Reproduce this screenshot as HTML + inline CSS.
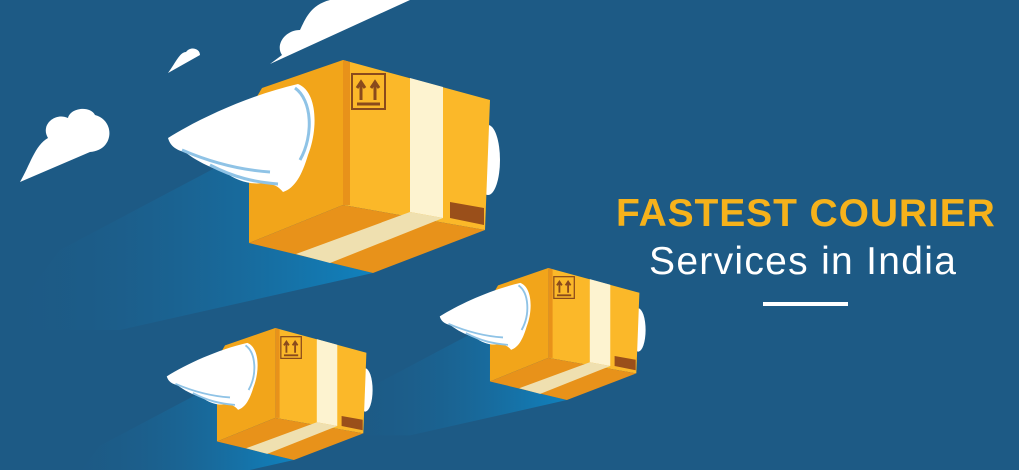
<!DOCTYPE html>
<html><head><meta charset="utf-8"><style>
html,body{margin:0;padding:0;}
body{width:1019px;height:470px;overflow:hidden;background:#1d5a85;position:relative;font-family:"Liberation Sans",sans-serif;}
svg{position:absolute;left:0;top:0;}
.t{position:absolute;white-space:nowrap;}
</style></head><body>
<svg width="1019" height="470" viewBox="0 0 1019 470">
<defs>
<linearGradient id="st" x1="1" y1="0" x2="0" y2="0">
<stop offset="0" stop-color="#0f86c4"/><stop offset="1" stop-color="#1d5a85" stop-opacity="0"/>
</linearGradient>
<g id="box">
<polygon points="249,150 249,243 373,273 120,330 0,330 60,250" fill="url(#st)" opacity="0.9"/>
<ellipse cx="488" cy="160" rx="12" ry="35" fill="#ffffff"/>
<polygon points="262,88 343,60 343,205 249,243 249,110" fill="#f2a51a"/>
<polygon points="343,60 490,100 485,230 343,205" fill="#fbb829"/>
<polygon points="343,60 350,62 350,205 343,205" fill="#e8921a"/>
<polygon points="249,243 343,205 485,230 373,273" fill="#e8921a"/>
<polygon points="410,78 443,87 443,218 410,212" fill="#fdf3d0"/>
<polygon points="410,212 443,218 330,263 296,254" fill="#efe0b0"/>
<rect x="352" y="74" width="33" height="35" fill="none" stroke="#8a4a1c" stroke-width="2"/>
<path d="M361,100 V84 M357,88 L361,82 L365,88 M375,100 V84 M371,88 L375,82 L379,88 M357,104 H380" stroke="#8a4a1c" stroke-width="3" fill="none"/>
<polygon points="450,202 484,208 484,225 450,218" fill="#9a4f1a"/>
<path d="M168,138 C200,118 250,95 298,84 C318,92 318,130 308,155 C302,175 295,188 283,192 C275,182 268,185 262,183 C250,185 235,180 225,172 C210,168 195,160 185,152 C175,150 170,145 168,138 Z" fill="#ffffff"/>
<path d="M182,150 C210,162 240,170 270,172 M210,165 C235,178 255,182 278,184" stroke="#8fc3e6" stroke-width="3" fill="none"/>
<path d="M295,88 C312,100 314,135 300,160" stroke="#8fc3e6" stroke-width="3" fill="none"/>
</g>
</defs>
<path d="M20,182 L90,152 C115,150 115,120 95,115 C90,105 70,108 68,118 C55,112 40,125 48,138 C35,145 30,165 20,182 Z" fill="#ffffff"/>
<path d="M270,64 L410,0 L330,0 C310,5 305,20 300,30 C285,30 275,45 282,55 Z" fill="#ffffff"/>
<path d="M168,73 L200,55 C200,48 190,46 186,52 C180,52 176,62 168,73 Z" fill="#ffffff"/>
<use href="#box"/>
<use href="#box" transform="translate(335.6,230.8) scale(0.62)"/>
<use href="#box" transform="translate(62.6,290.8) scale(0.62)"/>
<rect x="763" y="302" width="85" height="4" fill="#ffffff"/>
</svg>
<div class="t" style="left:616px;top:192px;font-size:39px;font-weight:bold;color:#f6b21b;letter-spacing:0.9px;">FASTEST COURIER</div>
<div class="t" style="left:649px;top:240px;font-size:39px;color:#ffffff;letter-spacing:1.3px;">Services in India</div>
</body></html>
